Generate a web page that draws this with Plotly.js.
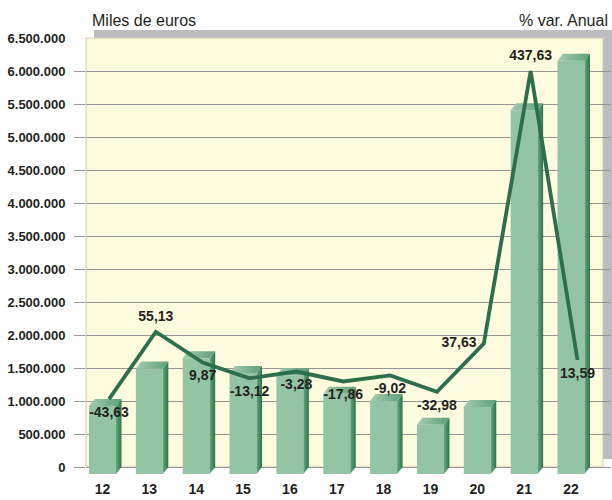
<!DOCTYPE html>
<html>
<head>
<meta charset="utf-8">
<script src="https://cdn.plot.ly/plotly-3.0.1.min.js"></script>
<style>html,body{margin:0;padding:0;background:#fff;}</style>
</head>
<body>
<div id="chart" style="width:612px;height:500px;"></div>
<script>
// ---- data ----
const years = ['12','13','14','15','16','17','18','19','20','21','22'];
const valores = [1030000, 1600000, 1755000, 1530000, 1495000, 1217000, 1106000, 747000, 1015000, 5510000, 6260000];
const variacion = [-43.63, 55.13, 9.87, -13.12, -3.28, -17.86, -9.02, -32.98, 37.63, 437.63, 13.59];
const yTicks = [0, 500000, 1000000, 1500000, 2000000, 2500000, 3000000, 3500000, 4000000, 4500000, 5000000, 5500000, 6000000];
const yTopTick = [6500000];
const labelPos = ['bottom center','top center','bottom center','bottom center','bottom center','bottom center','bottom center','bottom center','middle left','top center','bottom center'];

// ---- style constants ----
const FONT = "'Liberation Sans', Arial, sans-serif";
const TXT = '#231f20';
const depth = 106000;   // 3D depth, value units
const dxu = 0.117;      // 3D depth, category units
const bw = 0.576;       // front face width
const lineShift = 0.139;
const idx = years.map((_, i) => i);

const traces = [];
// front faces
traces.push({
  type: 'bar', x: idx, y: valores, base: idx.map(() => -depth), width: bw,
  marker: {color: '#93c4a3', line: {width: 0}}, hoverinfo: 'skip'
});
// side faces
valores.forEach((v, i) => {
  const xl = i + bw / 2, xr = xl + dxu;
  traces.push({
    type: 'scatter', mode: 'lines', fill: 'toself',
    x: [xl, xl, xr, xr, xl], y: [-depth, v - depth, v, 0, -depth],
    line: {width: 0, color: 'rgba(0,0,0,0)'},
    fillgradient: {type: 'horizontal', colorscale: [[0, '#67a680'], [1, '#2a744b']]},
    hoverinfo: 'skip'
  });
});
// top faces
valores.forEach((v, i) => {
  const x0 = i - bw / 2, x1 = i + bw / 2;
  traces.push({
    type: 'scatter', mode: 'lines', fill: 'toself',
    x: [x0, x0 + dxu, x1 + dxu, x1, x0], y: [v - depth, v, v, v - depth, v - depth],
    line: {width: 0, color: 'rgba(0,0,0,0)'},
    fillgradient: {type: 'horizontal', colorscale: [[0, '#a2cdb1'], [1, '#5f9e78']]},
    hoverinfo: 'skip'
  });
});
// % variation line
traces.push({
  type: 'scatter', mode: 'lines+markers+text', yaxis: 'y2',
  x: idx.map(i => i + lineShift), y: variacion,
  line: {color: '#2d6f4c', width: 3.8},
  marker: {size: 10, color: 'rgba(0,0,0,0)'},
  text: variacion.map(v => v.toFixed(2).replace('.', ',')),
  textposition: labelPos,
  textfont: {family: FONT, size: 14, color: TXT, weight: 'bold'},
  cliponaxis: false, hoverinfo: 'skip'
});
// empty trace so the top-label axis is drawn
traces.push({type: 'scatter', mode: 'markers', x: [], y: [], yaxis: 'y3', hoverinfo: 'skip'});

const tickFont = {family: FONT, size: 13, color: TXT, weight: 'bold'};
const xTickFont = {family: FONT, size: 14, color: TXT, weight: 'bold'};
const yRange = [-106061, 6500000];

const layout = {
  width: 612, height: 500,
  margin: {l: 86, r: 1, t: 38, b: 26, pad: 0},
  paper_bgcolor: '#ffffff', plot_bgcolor: 'rgba(0,0,0,0)',
  separators: ',.',
  showlegend: false, hovermode: false, barmode: 'overlay',
  xaxis: {
    range: [-0.3522, 10.854], tickmode: 'array', tickvals: idx, ticktext: years,
    showgrid: false, zeroline: false, showline: false, ticks: '',
    tickfont: xTickFont, ticklabelstandoff: 5, fixedrange: true
  },
  yaxis: {
    range: yRange, tickmode: 'array', tickvals: yTicks, tickformat: ',d',
    showgrid: true, gridcolor: '#959595', gridwidth: 1, zeroline: false, showline: false,
    ticks: 'outside', ticklen: 11, tickcolor: '#959595', tickwidth: 1,
    tickfont: tickFont, ticklabelstandoff: 6, fixedrange: true
  },
  yaxis3: {
    overlaying: 'y', anchor: 'x', side: 'left',
    range: yRange, tickmode: 'array', tickvals: yTopTick, tickformat: ',d',
    showgrid: false, zeroline: false, showline: false,
    ticks: 'outside', ticklen: 11, tickcolor: 'rgba(0,0,0,0)',
    tickfont: tickFont, ticklabelstandoff: 6, fixedrange: true
  },
  yaxis2: {
    overlaying: 'y', side: 'right', range: [-153.6, 486.1], visible: false, fixedrange: true
  },
  shapes: [
    {type: 'rect', xref: 'paper', yref: 'paper', layer: 'below',
     x0: 0.01524, x1: 1.0019, y0: 0.0344, y1: 1.0183,
     fillcolor: '#bdbdc1', line: {width: 0}},
    {type: 'rect', xref: 'paper', yref: 'paper', layer: 'below',
     x0: 0, x1: 0.98476, y0: 0.01606, y1: 1.0,
     fillcolor: '#fffbdf', line: {width: 1, color: '#cfcaae'}}
  ],
  annotations: [
    {text: 'Miles de euros', xref: 'paper', yref: 'paper', x: 0.0076, y: 1.039,
     xanchor: 'left', yanchor: 'middle', showarrow: false,
     font: {family: FONT, size: 16, color: TXT}},
    {text: '% var. Anual', xref: 'paper', yref: 'paper', x: 0.998, y: 1.039,
     xanchor: 'right', yanchor: 'middle', showarrow: false,
     font: {family: FONT, size: 16, color: TXT}}
  ]
};

Plotly.newPlot('chart', traces, layout, {displayModeBar: false, staticPlot: true});
</script>
</body>
</html>
